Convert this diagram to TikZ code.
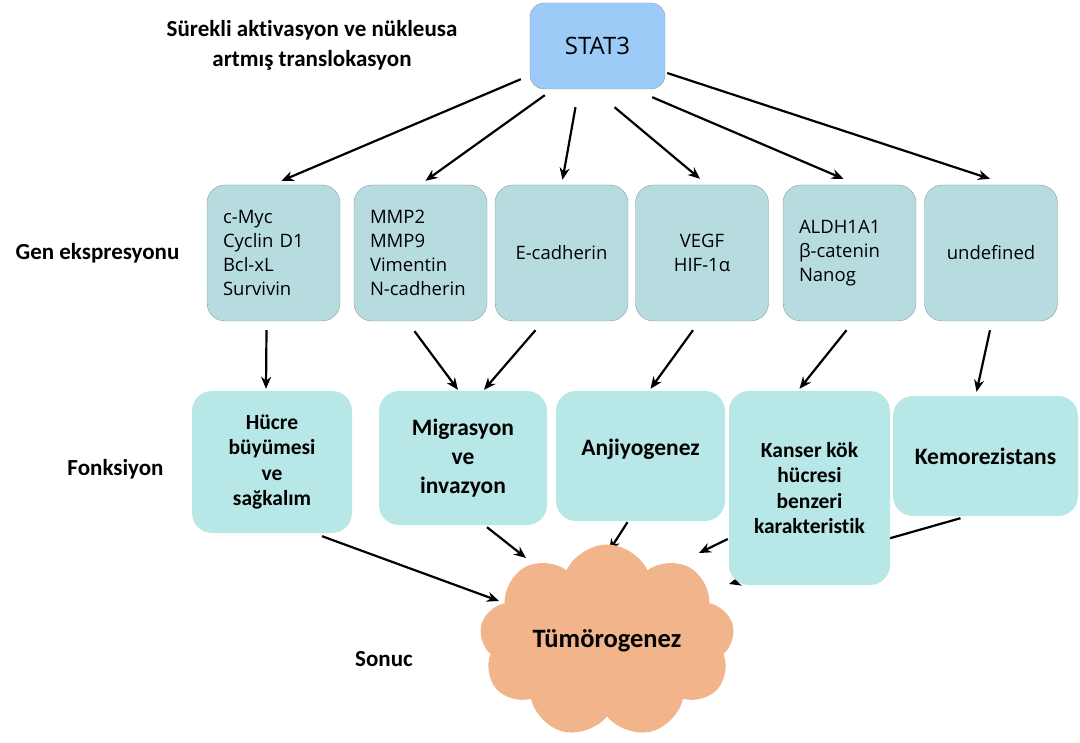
\documentclass[tikz,border=0pt]{standalone}
\usepackage{fontspec}
\setmainfont{Carlito}[Ligatures=NoCommon]
\newfontfamily\genefont{Open Sans}
\usetikzlibrary{arrows.meta,shapes.symbols,calc,backgrounds}

\definecolor{statblue}{HTML}{9DCBF7}
\definecolor{geneteal}{HTML}{B7DCE0}
\definecolor{funccyan}{HTML}{B8E7E7}
\definecolor{tumorpeach}{HTML}{F2B48B}
\definecolor{boxgray}{HTML}{8E9CA3}

\tikzset{
  stat/.style={draw=boxgray, fill=statblue, rounded corners=14pt,
    minimum width=135pt, minimum height=86pt,
    font=\genefont\fontsize{24}{28}\selectfont},
  gene/.style={draw=boxgray, fill=geneteal, rounded corners=18pt,
    minimum width=133pt, minimum height=136pt, text width=101pt,
    inner xsep=16pt, align=left,
    font=\genefont\fontsize{18.5}{24}\selectfont},
  func/.style={fill=funccyan, rounded corners=20pt, inner sep=0pt,
    align=center, font=\bfseries\fontsize{23.5}{29}\selectfont},
  smallfunc/.style={func, font=\bfseries\fontsize{21.5}{25.5}\selectfont},
  rowlabel/.style={align=center, font=\bfseries\fontsize{23}{30}\selectfont},
  arr/.style={line width=2.2pt, -{Stealth[length=12pt,width=10pt]}},
}

\begin{document}
\begin{tikzpicture}[x=1pt,y=-1pt]
\useasboundingbox (0,0) rectangle (1080,743);

% row labels
\node[rowlabel] (title) at (312,45) {Sürekli aktivasyon ve nükleusa\\artmış translokasyon};
\node[rowlabel] (genrow) at (97.5,253) {Gen ekspresyonu};
\node[rowlabel] (fonkrow) at (115.5,469) {Fonksiyon};
\node[rowlabel] (sonucrow) at (384,659) {Sonuc};

\node[stat] (stat3) at (597.5,46) {STAT3};

% gene expression
\node[gene] (g1) at (273.5,253) {c-Myc\\Cyclin D1\\Bcl-xL\\Survivin};
\node[gene] (g2) at (420.5,253) {MMP2\\MMP9\\Vimentin\\N-cadherin};
\node[gene, align=center] (g3) at (561.5,253) {E-cadherin};
\node[gene, align=center] (g4) at (702,253) {VEGF\\HIF-1α};
\node[gene] (g5) at (849.5,253) {ALDH1A1\\β-catenin\\Nanog};
\node[gene, align=center] (g6) at (991,253) {undefined};

% functions
\node[smallfunc, minimum width=160pt, minimum height=142pt] (f1) at (272,462) {Hücre\\büyümesi\\ve\\sağkalım};
\node[func, minimum width=168pt, minimum height=134pt] (f2) at (463,458) {Migrasyon\\ve\\invazyon};
\node[func, minimum width=169pt, minimum height=130pt] (f3) at (640.5,456) {\raisebox{18pt}{Anjiyogenez}};
\node[smallfunc, minimum width=161pt, minimum height=194pt] (f4) at (809.5,488) {Kanser kök\\hücresi\\benzeri\\karakteristik};
\node[func, minimum width=185pt, minimum height=120pt] (f5) at (985.5,456) {Kemorezistans};

\node[cloud, cloud puffs=9, cloud puff arc=130, cloud ignores aspect, fill=tumorpeach, inner sep=0pt,
  minimum width=255pt, minimum height=193pt,
  font=\bfseries\fontsize{26.5}{30}\selectfont] (tumor) at (607,641) {Tümörogenez};

\begin{scope}[on background layer]
% STAT3 to genes
\draw[arr] ($(stat3.south west)+(-9,-10)$) -- ($(g1.north)+(8,-4)$);
\draw[arr] ($(stat3.south west)+(15,6)$) -- ($(g2.north)+(5,-4)$);
\draw[arr] ($(stat3.south)+(-22,18)$) -- ($(g3.north)+(1,-5)$);
\draw[arr] ($(stat3.south)+(17,18)$) -- ($(g4.north)+(-2,-6)$);
\draw[arr] ($(stat3.south east)+(-13,8)$) -- ($(g5.north)+(-6,-6)$);
\draw[arr] ($(stat3.east)+(2,27)$) -- ($(g6.north)+(-1,-6)$);
% genes to functions
\draw[arr] ($(g1.south)+(-7,9)$) -- ($(f1.north)+(-6,-2)$);
\draw[arr] ($(g2.south)+(-6,10)$) -- ($(f2.north)+(-5,-1)$);
\draw[arr] ($(g3.south)+(-26,9)$) -- ($(f2.north)+(21,-1)$);
\draw[arr] ($(g4.south)+(-9,9)$) -- ($(f3.north)+(10,-2)$);
\draw[arr] ($(g5.south)+(-3,9)$) -- ($(f4.north)+(-10,-2)$);
\draw[arr] ($(g6.south)+(-1,9)$) -- ($(f5.north)+(-9,-4)$);
% functions to tumorigenesis
\draw[arr] ($(f1.south)+(50,3)$) -- ($(tumor)+(-108,-40)$);
\draw[arr] ($(f2.south)+(24,2)$) -- ($(tumor)+(-81,-83)$);
\draw[arr] ($(f3.south)+(-13,1)$) -- ($(tumor)+(2,-90)$);
\draw[arr] ($(f4.west)+(-1,51)$) -- ($(tumor)+(92,-88)$);
\draw[arr] ($(f5.south)+(-25,2)$) -- ($(tumor)+(122,-57)$);
\end{scope}
\end{tikzpicture}
\end{document}
